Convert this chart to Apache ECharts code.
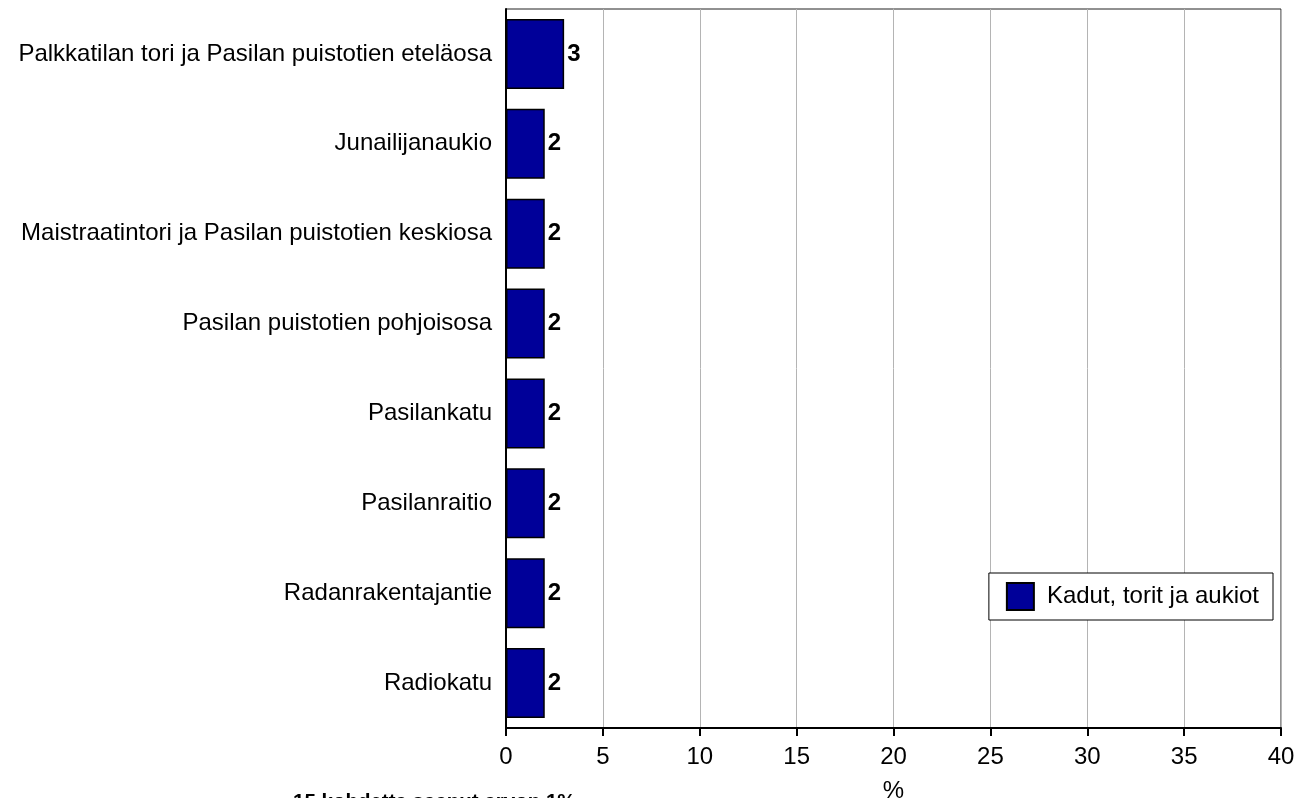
<!DOCTYPE html>
<html><head><meta charset="utf-8">
<script src="https://cdn.jsdelivr.net/npm/echarts@6/dist/echarts.min.js"></script>
<style>html,body{margin:0;padding:0;background:#fff;}#c{width:1303px;height:798px;}</style>
</head><body><div id="c"></div>
<script>
const categories = ["Palkkatilan tori ja Pasilan puistotien eteläosa","Junailijanaukio","Maistraatintori ja Pasilan puistotien keskiosa","Pasilan puistotien pohjoisosa","Pasilankatu","Pasilanraitio","Radanrakentajantie","Radiokatu"];
const values = [3,2,2,2,2,2,2,2];
const seriesName = "Kadut, torit ja aukiot";
const axisName = "%";
const footnote = "15 kohdetta saanut arvon 1%";
const chart = echarts.init(document.getElementById('c'));
const F = "'Liberation Sans', Arial, sans-serif";
chart.setOption({
  animation:false,
  textStyle:{fontFamily:F},
  grid:{left:506,right:22,top:9,bottom:70,outerBoundsMode:'none',containLabel:false,show:true,borderColor:'#222',borderWidth:1,backgroundColor:'transparent'},
  legend:{right:30,top:573,orient:'vertical',itemWidth:27,itemHeight:27,itemGap:0,padding:[9,14,9,17],
    borderColor:'#000',borderWidth:1,backgroundColor:'#fff',icon:'rect',
    textStyle:{fontSize:24,color:'#000',fontFamily:F,padding:[0,0,0,8]},data:[seriesName]},
  xAxis:{type:'value',min:0,max:40,interval:5,
    name:axisName,nameLocation:'middle',nameGap:51,nameTextStyle:{fontSize:24,color:'#000',fontFamily:F},
    axisLine:{show:true,lineStyle:{color:'#000',width:2}},
    axisTick:{show:true,length:8,lineStyle:{color:'#000',width:2}},
    axisLabel:{fontSize:24,color:'#000',margin:17,fontFamily:F},
    splitLine:{show:true,lineStyle:{color:'#b4b4b4',width:1}}},
  yAxis:{type:'category',data:categories,inverse:true,
    axisLine:{show:true,lineStyle:{color:'#000',width:2}},
    axisTick:{show:false},
    axisLabel:{fontSize:24,color:'#000',margin:14,fontFamily:F}},
  series:[{type:'bar',name:seriesName,data:values,barCategoryGap:'22%',
    itemStyle:{color:'#000099',borderColor:'#000',borderWidth:1.5},
    label:{show:true,position:'right',distance:3,fontSize:24,fontWeight:'bold',color:'#000',fontFamily:F}}],
  graphic:[{type:'text',left:293,top:792,style:{text:footnote,font:"bold 20.5px "+F,fill:'#000'}}]
});
</script></body></html>
